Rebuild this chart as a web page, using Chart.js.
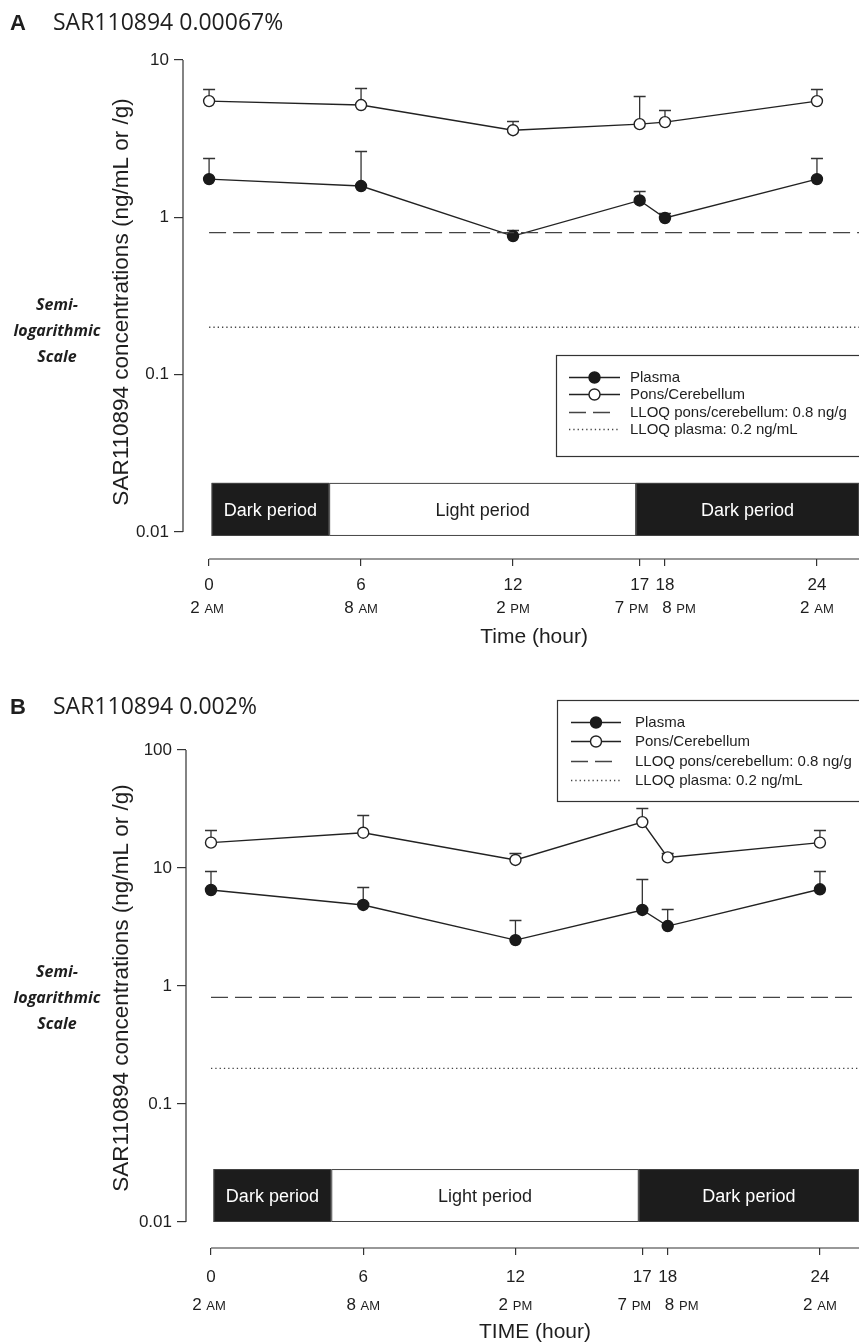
<!DOCTYPE html>
<html>
<head>
<meta charset="utf-8">
<title>SAR110894 concentrations</title>
<script src="https://cdn.jsdelivr.net/npm/chart.js@4.4.1/dist/chart.umd.min.js"></script>
<style>
  html, body { margin: 0; padding: 0; background: #fff; }
  .panel { position: absolute; left: 0; width: 859px; }
  #wrapA { top: 0; height: 665px; }
  #wrapB { top: 665px; height: 678px; }
</style>
</head>
<body>
<div class="panel" id="wrapA"><canvas id="chartA" width="859" height="665"></canvas></div>
<div class="panel" id="wrapB"><canvas id="chartB" width="859" height="678"></canvas></div>
<script>
// ── data ──────────────────────────────────────────────
const hours       = [0, 6, 12, 17, 18, 24];
const clockLabels = ['2 AM', '8 AM', '2 PM', '7 PM', '8 PM', '2 AM'];

const plasmaA      = [1.75, 1.58, 0.76, 1.28, 0.99, 1.75];
const plasmaUpperA = [2.38, 2.63, 0.83, 1.47, 1.06, 2.38];
const ponsA        = [5.48, 5.17, 3.58, 3.91, 4.03, 5.48];
const ponsUpperA   = [6.53, 6.63, 4.09, 5.90, 4.80, 6.53];

const plasmaB      = [6.51, 4.86, 2.45, 4.41, 3.22, 6.60];
const plasmaUpperB = [9.49, 6.95, 3.60, 8.02, 4.47, 9.49];
const ponsB        = [16.4, 19.9, 11.7, 24.5, 12.3, 16.4];
const ponsUpperB   = [21.0, 28.1, 13.4, 32.4, 13.5, 21.0];

const lloqPons   = 0.8;
const lloqPlasma = 0.2;
const lloqHours  = [0, 26];

const yTicksA = [0.01, 0.1, 1, 10];
const yTicksB = [0.01, 0.1, 1, 10, 100];

const periodStart  = [0.1, 4.74, 16.86];
const periodEnd    = [4.74, 16.86, 26];
const periodLabels = ['Dark period', 'Light period', 'Dark period'];
const periodDark   = [true, false, true];

// ── style ─────────────────────────────────────────────
const INK   = '#1e1e1e';
const ARIAL = '"Liberation Sans", Arial, Helvetica, sans-serif';
const clockNudge = [-2, 0, 0, -8, 14, 0];

const layoutA = {
  letter: 'A', title: 'SAR110894 0.00067%', xTitle: 'Time (hour)', titleY: 23,
  chartLeft: 183, chartTop: 60, chartBottom: 559, height: 665,
  xMin: -1.03, xMax: 25.66, yMin: 0.00673, yMax: 10, yTicks: yTicksA,
  xTickPad: 9, clockOff: 49, xTitleOff: 78, semiY: 331, yTitleShift: 6,
  band: [0.0205, 0.00943],
  leg: { x: 556, top: 355, bottom: 456, row0: 377, gap: 17.4, sx0: 569, sx1: 620, tx: 630 },
};
const layoutB = {
  letter: 'B', title: 'SAR110894 0.002%', xTitle: 'TIME (hour)', titleY: 42,
  chartLeft: 186, chartTop: 85, chartBottom: 583, height: 678,
  xMin: -0.985, xMax: 25.54, yMin: 0.00602, yMax: 100, yTicks: yTicksB,
  xTickPad: 12, clockOff: 57, xTitleOff: 84, semiY: 333, yTitleShift: 2,
  band: [0.0281, 0.01],
  leg: { x: 557, top: 35, bottom: 136, row0: 57, gap: 19.3, sx0: 571, sx1: 621, tx: 635 },
};

function panelPlugin(L) {
  return {
    id: 'panel' + L.letter,
    // the x axis runs to the right edge of the canvas
    afterLayout(chart) {
      const ca = chart.chartArea;
      const x = chart.scales.x;
      if (ca.right < chart.width) {
        ca.right = chart.width;
        ca.width = ca.right - ca.left;
        x.right = chart.width;
        x.width = x.right - x.left;
        x.configure();
      }
    },
    beforeDatasetsDraw(chart) {
      const { ctx, chartArea: ca, scales: { x, y } } = chart;
      ctx.save();
      // light / dark band
      const yt = y.getPixelForValue(L.band[0]);
      const yb = y.getPixelForValue(L.band[1]);
      periodStart.forEach((s, i) => {
        const x0 = x.getPixelForValue(s);
        const x1 = Math.min(x.getPixelForValue(periodEnd[i]), ca.right);
        ctx.fillStyle = periodDark[i] ? '#1c1c1c' : '#fff';
        ctx.fillRect(x0, yt, x1 - x0, yb - yt);
        ctx.strokeStyle = '#444';
        ctx.lineWidth = 1;
        ctx.strokeRect(x0 + 0.5, yt + 0.5, x1 - x0 - 1, yb - yt - 1);
        ctx.fillStyle = periodDark[i] ? '#fff' : INK;
        ctx.font = '18px ' + ARIAL;
        ctx.textAlign = 'center';
        ctx.textBaseline = 'middle';
        ctx.fillText(periodLabels[i], (x0 + x1) / 2, (yt + yb) / 2 + 2);
      });
      // upper error bars
      ctx.strokeStyle = '#333';
      ctx.lineWidth = 1.3;
      chart.data.datasets.forEach((ds, di) => {
        if (!ds.upper) return;
        chart.getDatasetMeta(di).data.forEach((pt, i) => {
          const yu = Math.round(y.getPixelForValue(ds.upper[i])) + 0.5;
          ctx.beginPath();
          ctx.moveTo(pt.x, pt.y);
          ctx.lineTo(pt.x, yu);
          ctx.moveTo(pt.x - 6, yu);
          ctx.lineTo(pt.x + 6, yu);
          ctx.stroke();
        });
      });
      ctx.restore();
    },
    afterDraw(chart) {
      const { ctx, chartArea: ca, scales: { x, y } } = chart;
      ctx.save();
      ctx.strokeStyle = '#333';
      ctx.lineWidth = 1.2;
      // axis lines
      ctx.beginPath();
      ctx.moveTo(ca.left, y.getPixelForValue(L.yTicks[L.yTicks.length - 1]));
      ctx.lineTo(ca.left, y.getPixelForValue(L.yTicks[0]));
      ctx.moveTo(x.getPixelForValue(0), ca.bottom);
      ctx.lineTo(ca.right, ca.bottom);
      ctx.stroke();

      ctx.fillStyle = INK;
      ctx.textBaseline = 'middle';
      // clock labels with small caps AM/PM
      clockLabels.forEach((lbl, i) => {
        const [num, suf] = lbl.split(' ');
        ctx.font = '17px ' + ARIAL;
        const wNum = ctx.measureText(num + ' ').width;
        ctx.font = '13px ' + ARIAL;
        const wSuf = ctx.measureText(suf).width;
        const cx = x.getPixelForValue(hours[i]) + clockNudge[i] - (wNum + wSuf) / 2;
        const cy = ca.bottom + L.clockOff;
        ctx.textAlign = 'left';
        ctx.font = '17px ' + ARIAL;
        ctx.fillText(num, cx, cy);
        ctx.font = '13px ' + ARIAL;
        ctx.fillText(suf, cx + wNum, cy + 1);
      });
      // x title
      ctx.textAlign = 'center';
      ctx.font = '21px ' + ARIAL;
      ctx.fillText(L.xTitle, (x.getPixelForValue(0) + ca.right) / 2, ca.bottom + L.xTitleOff);
      // y title
      const yMid = (y.getPixelForValue(L.yTicks[0]) + y.getPixelForValue(L.yTicks[L.yTicks.length - 1])) / 2;
      ctx.save();
      ctx.translate(122, yMid + L.yTitleShift);
      ctx.rotate(-Math.PI / 2);
      ctx.font = '22.5px ' + ARIAL;
      ctx.fillText('SAR110894 concentrations (ng/mL or /g)', 0, 0);
      ctx.restore();
      // semi-log note
      ctx.font = 'italic bold 16px "Open Sans", "Noto Sans", sans-serif';
      ['Semi-', 'logarithmic', 'Scale'].forEach((t, i) => ctx.fillText(t, 57, L.semiY + (i - 1) * 26));
      // panel title
      ctx.textAlign = 'left';
      ctx.font = 'bold 22px ' + ARIAL;
      ctx.fillText(L.letter, 10, L.titleY + 1);
      ctx.font = '23px "Open Sans", "Noto Sans", sans-serif';
      ctx.fillText(L.title, 53, L.titleY);

      // legend
      const g = L.leg;
      ctx.strokeStyle = '#333';
      ctx.lineWidth = 1.2;
      ctx.strokeRect(g.x + 0.5, g.top + 0.5, chart.width - g.x + 10, g.bottom - g.top);
      [2, 3, 0, 1].forEach((di, row) => {
        const ds = chart.data.datasets[di];
        const ry = Math.round(g.row0 + row * g.gap) + 0.5;
        ctx.strokeStyle = ds.borderColor;
        ctx.lineWidth = ds.borderWidth;
        ctx.setLineDash(ds.borderDash || []);
        ctx.beginPath();
        ctx.moveTo(g.sx0, ry);
        ctx.lineTo(ds.legendLen ? g.sx0 + ds.legendLen : g.sx1, ry);
        ctx.stroke();
        ctx.setLineDash([]);
        if (ds.pointRadius) {
          ctx.beginPath();
          ctx.arc((g.sx0 + g.sx1) / 2, ry, ds.pointRadius, 0, Math.PI * 2);
          ctx.fillStyle = ds.pointBackgroundColor;
          ctx.fill();
          ctx.strokeStyle = ds.pointBorderColor;
          ctx.stroke();
        }
        ctx.fillStyle = INK;
        ctx.font = '15px ' + ARIAL;
        ctx.fillText(ds.label, g.tx, ry);
      });
      ctx.restore();
    },
  };
}

function renderPanel(id, L, plasma, plasmaUpper, pons, ponsUpper) {
  const tickFont = { family: ARIAL, size: 17 };
  return new Chart(document.getElementById(id), {
    type: 'line',
    data: {
      datasets: [
        { label: 'LLOQ pons/cerebellum: 0.8 ng/g', data: lloqHours.map(h => ({ x: h, y: lloqPons })),
          borderColor: '#444', borderWidth: 1.3, borderDash: [17, 7], legendLen: 41, pointRadius: 0 },
        { label: 'LLOQ plasma: 0.2 ng/mL', data: lloqHours.map(h => ({ x: h, y: lloqPlasma })),
          borderColor: '#444', borderWidth: 1.3, borderDash: [1.3, 3], pointRadius: 0 },
        { label: 'Plasma', data: hours.map((h, i) => ({ x: h, y: plasma[i] })), upper: plasmaUpper,
          borderColor: '#222', borderWidth: 1.4, pointRadius: 5.5, pointBorderWidth: 1.4,
          pointBackgroundColor: '#1a1a1a', pointBorderColor: '#1a1a1a' },
        { label: 'Pons/Cerebellum', data: hours.map((h, i) => ({ x: h, y: pons[i] })), upper: ponsUpper,
          borderColor: '#222', borderWidth: 1.4, pointRadius: 5.5, pointBorderWidth: 1.4,
          pointBackgroundColor: '#fff', pointBorderColor: '#222' },
      ],
    },
    options: {
      responsive: false,
      animation: false,
      devicePixelRatio: 1,
      layout: { padding: { left: L.chartLeft - 70, top: L.chartTop, right: 0, bottom: 0 } },
      plugins: { legend: { display: false }, tooltip: { enabled: false } },
      scales: {
        x: {
          type: 'linear', min: L.xMin, max: L.xMax,
          afterFit: s => {
            s.height = L.height - L.chartBottom;
            s.paddingLeft = 0; s.paddingRight = 0;
          },
          afterBuildTicks: s => { s.ticks = hours.map(v => ({ value: v })); },
          ticks: { callback: v => String(v), font: tickFont, color: INK, padding: L.xTickPad, maxRotation: 0, autoSkip: false },
          grid: { drawOnChartArea: false, tickLength: 7, color: '#333', lineWidth: 1.2 },
          border: { display: false },
        },
        y: {
          type: 'logarithmic', min: L.yMin, max: L.yMax,
          afterFit: s => {
            s.width = 70;
            s.paddingTop = 0; s.paddingBottom = 0;
          },
          afterBuildTicks: s => { s.ticks = L.yTicks.map(v => ({ value: v })); },
          ticks: { callback: v => String(v), font: tickFont, color: INK, padding: 5 },
          grid: { drawOnChartArea: false, tickLength: 9, color: '#333', lineWidth: 1.2 },
          border: { display: false },
        },
      },
    },
    plugins: [panelPlugin(L)],
  });
}

renderPanel('chartA', layoutA, plasmaA, plasmaUpperA, ponsA, ponsUpperA);
renderPanel('chartB', layoutB, plasmaB, plasmaUpperB, ponsB, ponsUpperB);
</script>
</body>
</html>
